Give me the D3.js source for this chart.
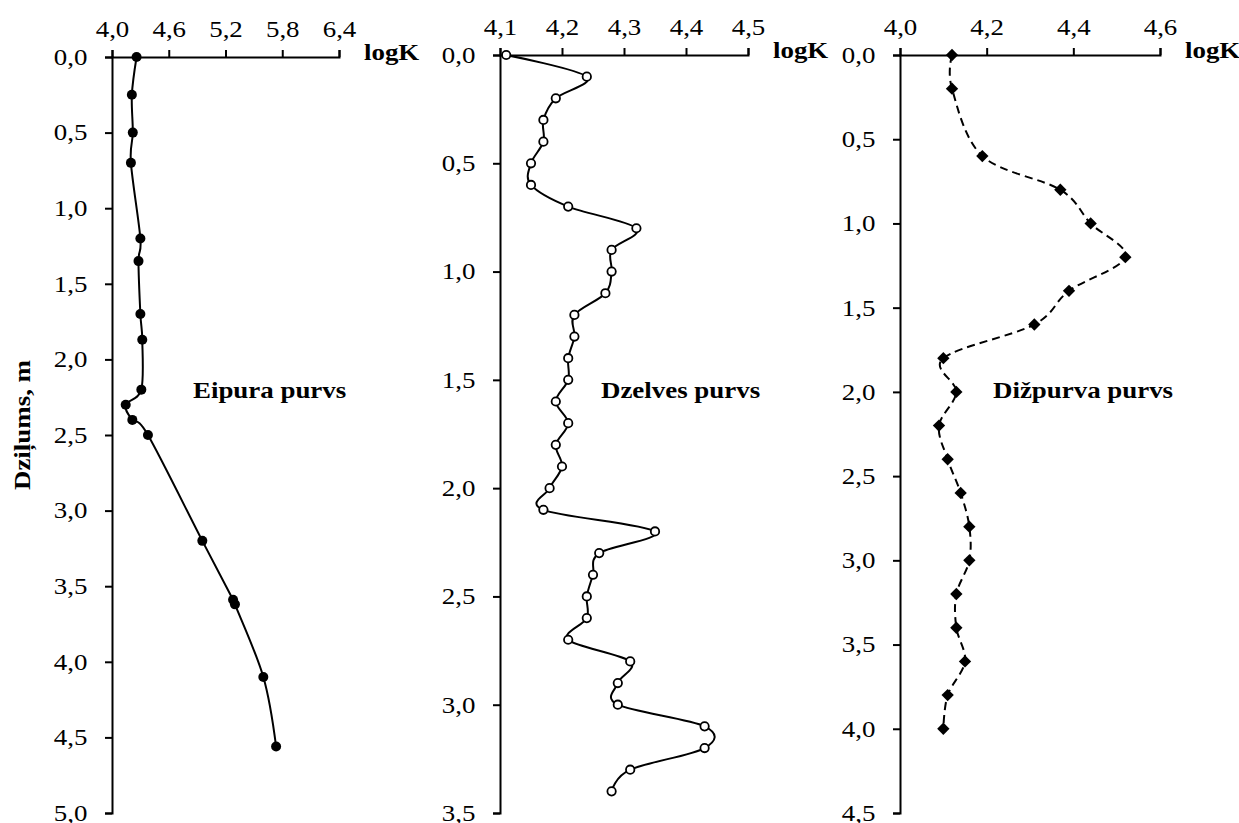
<!DOCTYPE html>
<html>
<head>
<meta charset="utf-8">
<script src="https://cdn.jsdelivr.net/npm/d3@7"></script>
<style>
  body { margin: 0; background: #fff; }
  text { font-family: "Liberation Serif", "Times New Roman", serif; fill: #000; }
</style>
</head>
<body>
<svg id="chart" width="1239" height="823"></svg>
<script>
// Eipura purvs
var eipuraDepth = [0.0, 0.25, 0.5, 0.7, 1.2, 1.35, 1.7, 1.87, 2.2, 2.3, 2.4, 2.5, 3.2, 3.59, 3.62, 4.1, 4.56];
var eipuraLogK  = [4.26, 4.21, 4.22, 4.20, 4.30, 4.28, 4.30, 4.32, 4.31, 4.145, 4.215, 4.38, 4.955, 5.28, 5.30, 5.60, 5.735];

// Dzelves purvs
var dzelvesDepth = [0.0, 0.1, 0.2, 0.3, 0.4, 0.5, 0.6, 0.7, 0.8, 0.9, 1.0, 1.1, 1.2, 1.3, 1.4, 1.5, 1.6, 1.7,
                    1.8, 1.9, 2.0, 2.1, 2.2, 2.3, 2.4, 2.5, 2.6, 2.7, 2.8, 2.9, 3.0, 3.1, 3.2, 3.3, 3.4];
var dzelvesLogK  = [4.11, 4.24, 4.19, 4.17, 4.17, 4.15, 4.15, 4.21, 4.32, 4.28, 4.28, 4.27, 4.22, 4.22, 4.21, 4.21, 4.19, 4.21,
                    4.19, 4.20, 4.18, 4.17, 4.35, 4.26, 4.25, 4.24, 4.24, 4.21, 4.31, 4.29, 4.29, 4.43, 4.43, 4.31, 4.28];

// Dižpurva purvs
var dizpurvaDepth = [0.0, 0.2, 0.6, 0.8, 1.0, 1.2, 1.4, 1.6, 1.8, 2.0, 2.2, 2.4, 2.6, 2.8, 3.0, 3.2, 3.4, 3.6, 3.8, 4.0];
var dizpurvaLogK  = [4.12, 4.12, 4.19, 4.37, 4.44, 4.52, 4.39, 4.31, 4.10, 4.13, 4.09, 4.11, 4.14, 4.16, 4.16, 4.13, 4.13, 4.15, 4.11, 4.10];

var eipuraXTicks   = [4.0, 4.6, 5.2, 5.8, 6.4];
var dzelvesXTicks  = [4.1, 4.2, 4.3, 4.4, 4.5];
var dizpurvaXTicks = [4.0, 4.2, 4.4, 4.6];
var eipuraYTicks   = [0, 0.5, 1, 1.5, 2, 2.5, 3, 3.5, 4, 4.5, 5];
var dzelvesYTicks  = [0, 0.5, 1, 1.5, 2, 2.5, 3, 3.5];
var dizpurvaYTicks = [0, 0.5, 1, 1.5, 2, 2.5, 3, 3.5, 4, 4.5];

var panelNames = ["Eipura purvs", "Dzelves purvs", "Dižpurva purvs"];
var xAxisTitle = "logK";
var yAxisTitle = "Dziļums, m";

var svg = d3.select("#chart");
var stretch = "scale(1.17,1)";
var fmt = d3.formatLocale({decimal: ",", thousands: " ", grouping: [3], currency: ["", ""]}).format(".1f");

function drawPanel(p) {
    var x = d3.scaleLinear().domain([p.xTicks[0], p.xTicks[p.xTicks.length - 1]]).range([p.left, p.right]);
    var y = d3.scaleLinear().domain([0, p.yTicks[p.yTicks.length - 1]]).range([p.top, p.bottom]);

    var xAxis = svg.append("g")
        .attr("transform", "translate(0," + p.top + ")")
        .call(d3.axisTop(x).tickValues(p.xTicks).tickFormat(fmt).tickSize(7).tickPadding(13));
    var yAxis = svg.append("g")
        .attr("transform", "translate(" + p.left + ",0)")
        .call(d3.axisLeft(y).tickValues(p.yTicks).tickFormat(fmt).tickSize(7).tickPadding(14));

    [xAxis, yAxis].forEach(function (a) {
        a.select(".domain").attr("stroke", "#000").attr("stroke-width", 2);
        a.selectAll(".tick line").attr("stroke", "#000").attr("stroke-width", 2);
        a.selectAll(".tick text")
            .attr("font-family", "Liberation Serif, Times New Roman, serif")
            .attr("font-size", 23)
            .attr("fill", "#000")
            .attr("transform", stretch);
    });

    svg.append("text")
        .attr("transform", "translate(" + (p.right + 25) + "," + (p.top + 3) + ") " + stretch)
        .attr("font-size", 23)
        .attr("font-weight", "bold")
        .text(xAxisTitle);

    svg.append("text")
        .attr("transform", "translate(" + p.labelX + ",398) " + stretch)
        .attr("font-size", 23)
        .attr("font-weight", "bold")
        .text(p.name);

    var pts = p.depth.map(function (d, i) { return [x(p.logK[i]), y(d)]; });

    svg.append("path")
        .attr("d", d3.line().curve(d3.curveCardinal.tension(0))(pts))
        .attr("fill", "none")
        .attr("stroke", "#000")
        .attr("stroke-width", 2)
        .attr("stroke-dasharray", p.dash);

    if (p.marker === "dot") {
        svg.selectAll(null).data(pts).enter().append("circle")
            .attr("cx", function (d) { return d[0]; })
            .attr("cy", function (d) { return d[1]; })
            .attr("r", 5)
            .attr("fill", "#000");
    } else if (p.marker === "ring") {
        svg.selectAll(null).data(pts).enter().append("circle")
            .attr("cx", function (d) { return d[0]; })
            .attr("cy", function (d) { return d[1]; })
            .attr("r", 4.2)
            .attr("fill", "#fff")
            .attr("stroke", "#000")
            .attr("stroke-width", 1.8);
    } else {
        svg.selectAll(null).data(pts).enter().append("path")
            .attr("d", d3.symbol(d3.symbolSquare, 76)())
            .attr("transform", function (d) { return "translate(" + d[0] + "," + d[1] + ") rotate(45)"; })
            .attr("fill", "#000");
    }
}

drawPanel({name: panelNames[0], depth: eipuraDepth, logK: eipuraLogK, xTicks: eipuraXTicks, yTicks: eipuraYTicks,
           left: 112, right: 339, top: 57, bottom: 813, labelX: 193, marker: "dot", dash: null});
drawPanel({name: panelNames[1], depth: dzelvesDepth, logK: dzelvesLogK, xTicks: dzelvesXTicks, yTicks: dzelvesYTicks,
           left: 500, right: 748, top: 55, bottom: 813, labelX: 601, marker: "ring", dash: null});
drawPanel({name: panelNames[2], depth: dizpurvaDepth, logK: dizpurvaLogK, xTicks: dizpurvaXTicks, yTicks: dizpurvaYTicks,
           left: 900, right: 1160, top: 55, bottom: 813, labelX: 993, marker: "diamond", dash: "8,5"});

svg.append("text")
    .attr("transform", "translate(30,425) rotate(-90) " + stretch)
    .attr("text-anchor", "middle")
    .attr("font-size", 23)
    .attr("font-weight", "bold")
    .text(yAxisTitle);
</script>
</body>
</html>
